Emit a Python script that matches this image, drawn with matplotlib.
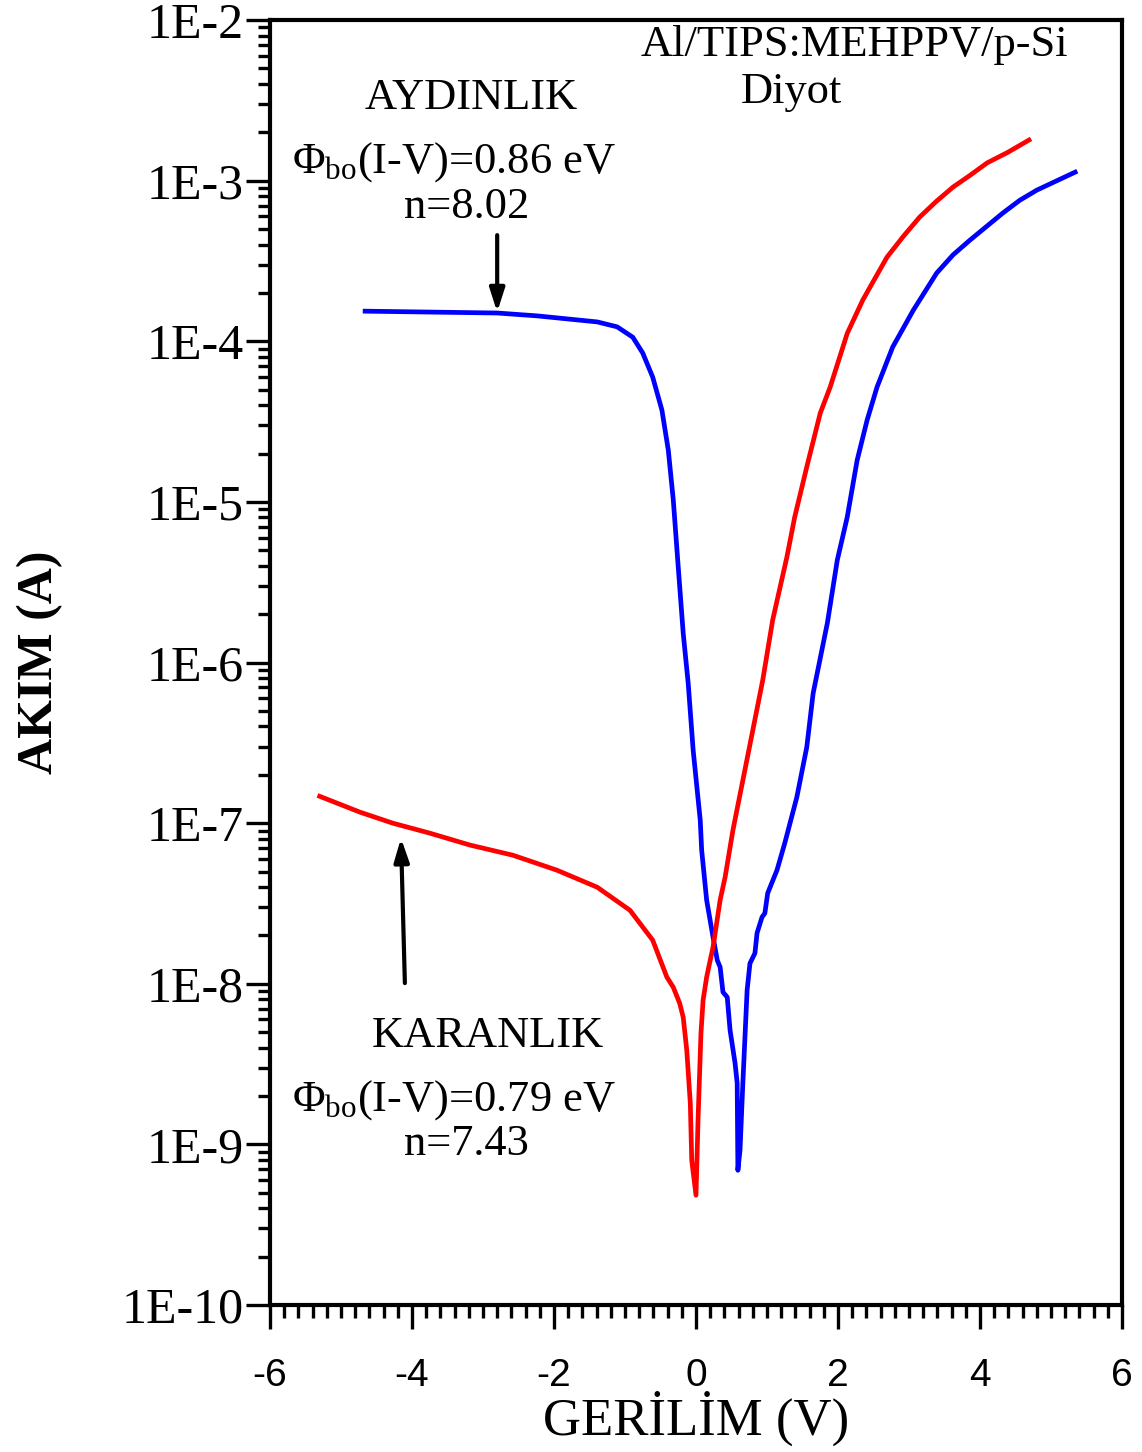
import matplotlib
matplotlib.use("Agg")
import matplotlib.pyplot as plt
from matplotlib.ticker import MultipleLocator, LogLocator, FuncFormatter, NullFormatter
import numpy as np

plt.rcParams['mathtext.fontset'] = 'custom'
plt.rcParams['mathtext.rm'] = 'Liberation Serif'
plt.rcParams['mathtext.it'] = 'Liberation Serif:italic'
plt.rcParams['axes.unicode_minus'] = False

# light (AYDINLIK) I-V
v_light = [-4.66, -2.80, -2.24, -1.39, -1.11, -0.89, -0.75, -0.61, -0.48, -0.39,
           -0.32, -0.25, -0.18, -0.11, -0.04, 0.06, 0.08, 0.15, 0.23, 0.30,
           0.34, 0.38, 0.44, 0.48, 0.55, 0.58, 0.59, 0.62, 0.66, 0.72,
           0.76, 0.83, 0.86, 0.93, 0.97, 1.01, 1.14, 1.25, 1.42, 1.56,
           1.65, 1.85, 1.99, 2.13, 2.27, 2.41, 2.55, 2.77, 3.06, 3.39,
           3.62, 3.86, 4.32, 4.56, 4.80, 5.34]
i_light = [1.54e-4, 1.50e-4, 1.44e-4, 1.32e-4, 1.23e-4, 1.06e-4, 8.45e-5, 5.99e-5, 3.73e-5, 2.10e-5,
           1.03e-5, 3.93e-6, 1.52e-6, 7.45e-7, 2.85e-7, 1.04e-7, 6.79e-8, 3.32e-8, 2.07e-8, 1.40e-8,
           1.27e-8, 8.87e-9, 8.26e-9, 5.14e-9, 3.21e-9, 2.41e-9, 6.90e-10, 9.20e-10, 2.41e-9, 9.12e-9,
           1.34e-8, 1.55e-8, 2.07e-8, 2.60e-8, 2.75e-8, 3.67e-8, 5.09e-8, 7.50e-8, 1.45e-7, 2.97e-7,
           6.44e-7, 1.76e-6, 4.34e-6, 8.04e-6, 1.82e-5, 3.23e-5, 5.19e-5, 9.20e-5, 1.56e-4, 2.66e-4,
           3.45e-4, 4.27e-4, 6.28e-4, 7.55e-4, 8.73e-4, 1.13e-3]

# dark (KARANLIK) I-V
v_dark = [-5.30, -4.73, -4.27, -3.75, -3.18, -2.58, -1.96, -1.39, -0.93, -0.61,
          -0.41, -0.32, -0.23, -0.18, -0.13, -0.08, -0.06, 0.00, 0.03, 0.07,
          0.10, 0.15, 0.20, 0.24, 0.34, 0.41, 0.52, 0.66, 0.80, 0.94,
          1.08, 1.28, 1.39, 1.56, 1.75, 1.89, 2.13, 2.35, 2.69, 2.92,
          3.15, 3.38, 3.62, 3.86, 4.10, 4.39, 4.69]
i_dark = [1.47e-7, 1.17e-7, 1.00e-7, 8.67e-8, 7.30e-8, 6.32e-8, 5.10e-8, 3.99e-8, 2.87e-8, 1.87e-8,
          1.10e-8, 9.52e-9, 7.57e-9, 6.19e-9, 3.86e-9, 1.80e-9, 7.97e-10, 4.83e-10, 1.47e-9, 4.92e-9,
          7.90e-9, 1.10e-8, 1.40e-8, 1.69e-8, 3.32e-8, 4.61e-8, 9.04e-8, 1.85e-7, 3.79e-7, 7.77e-7,
          1.84e-6, 4.53e-6, 8.04e-6, 1.65e-5, 3.57e-5, 5.19e-5, 1.12e-4, 1.81e-4, 3.34e-4, 4.50e-4,
          5.93e-4, 7.40e-4, 9.12e-4, 1.08e-3, 1.29e-3, 1.50e-3, 1.79e-3]

fig = plt.figure(figsize=(11.42, 14.52), dpi=100)
ax = fig.add_axes([0.2364, 0.1012, 0.7461, 0.8850])

ax.plot(v_light, i_light, color='#0000ff', linewidth=3.4, solid_joinstyle='round')
ax.plot(v_dark, i_dark, color='#ff0000', linewidth=3.4, solid_joinstyle='round')

ax.set_yscale('log')
ax.set_xlim(-6, 6)
ax.set_ylim(1e-10, 1e-2)

# ticks
ax.xaxis.set_major_locator(MultipleLocator(2))
ax.xaxis.set_minor_locator(MultipleLocator(0.2))
ax.yaxis.set_major_locator(LogLocator(base=10, numticks=20))
ax.yaxis.set_minor_locator(LogLocator(base=10, subs=np.arange(2, 10), numticks=20))
ax.yaxis.set_minor_formatter(NullFormatter())
ax.yaxis.set_major_formatter(FuncFormatter(lambda v, p: "1E%d" % round(np.log10(v))))

ax.tick_params(which='major', direction='out', length=17, width=2.4, top=False, right=False)
ax.tick_params(which='minor', direction='out', length=9, width=2.4, top=False, right=False)
ax.tick_params(axis='y', pad=2)
ax.tick_params(axis='x', pad=21)
for lab in ax.get_xticklabels():
    lab.set_fontfamily('Liberation Sans')
    lab.set_fontsize(28)
for lab in ax.get_yticklabels():
    lab.set_fontfamily('Liberation Serif')
    lab.set_fontsize(36)

for sp in ax.spines.values():
    sp.set_linewidth(3)

ax.set_xlabel('GERİLİM (V)', fontfamily='Liberation Serif', fontsize=38, labelpad=-2)
ax.set_ylabel('AKIM (A)', fontfamily='Liberation Serif', fontsize=36, fontweight='bold', labelpad=42)

txt = dict(fontfamily='Liberation Serif', fontsize=32, ha='center', va='center')
ax.text(2.23, 6.98e-3, 'Al/TIPS:MEHPPV/p-Si', **txt)
ax.text(1.35, 3.56e-3, 'Diyot', **txt)
ax.text(-3.17, 3.27e-3, 'AYDINLIK', **txt)
ax.text(-3.41, 1.30e-3, r'Φ$_{\mathrm{bo}}$(I-V)=0.86 eV', **txt)
ax.text(-3.23, 6.85e-4, 'n=8.02', **txt)
ax.text(-2.93, 4.72e-9, 'KARANLIK', **txt)
ax.text(-3.41, 1.90e-9, r'Φ$_{\mathrm{bo}}$(I-V)=0.79 eV', **txt)
ax.text(-3.23, 1.0e-9, 'n=7.43', **txt)

arrow = dict(arrowstyle='-|>,head_length=1.4,head_width=0.45', color='black',
             linewidth=3, shrinkA=0, shrinkB=0)
ax.annotate('', xy=(-2.80, 1.52e-4), xytext=(-2.80, 4.58e-4), arrowprops=arrow)
ax.annotate('', xy=(-4.155, 8.07e-8), xytext=(-4.10, 1.01e-8), arrowprops=arrow)

fig.savefig('out.png', dpi=100)
